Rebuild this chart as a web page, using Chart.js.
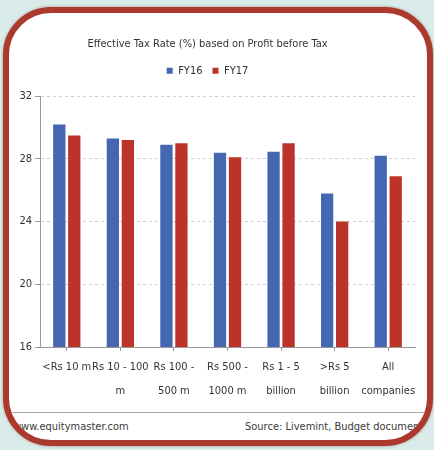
<!DOCTYPE html>
<html>
<head>
<meta charset="utf-8">
<script src="https://cdn.jsdelivr.net/npm/chart.js@4/dist/chart.umd.min.js"></script>
<style>
  html, body { margin: 0; padding: 0; }
  body { width: 434px; height: 450px; background: #d9ecea; position: relative; overflow: hidden;
         font-family: 'Liberation Sans Narrow', 'DejaVu Sans Condensed', sans-serif; }
  .frame { position: absolute; left: 3px; top: 7px; width: 430px; height: 439px; box-sizing: border-box;
           border: 6px solid #ab3a2e; border-radius: 48px; background: #fff; overflow: hidden;
           box-shadow: 0 0 3px rgba(120,40,30,0.5); }
  .chart-wrap { position: absolute; left: -9px; top: -13px; width: 434px; height: 410px; }
  .rule { position: absolute; left: 0; right: 0; top: 399px; height: 1px; background: #a8a8a8; }
  .foot { position: absolute; top: 407px; font-size: 11px; color: #3a3a3a; white-space: nowrap; }
</style>
</head>
<body>
<div class="frame">
  <div class="chart-wrap"><canvas id="tax-chart" width="434" height="410"></canvas></div>
  <div class="rule"></div>
  <div class="foot" style="left:4px">www.equitymaster.com</div>
  <div class="foot" style="left:236px">Source: Livemint, Budget documents</div>
</div>
<script>
const categories = [
  ['<Rs 10 m'], ['Rs 10 - 100', 'm'], ['Rs 100 -', '500 m'], ['Rs 500 -', '1000 m'],
  ['Rs 1 - 5', 'billion'], ['>Rs 5', 'billion'], ['All', 'companies']
]
const fy16 = [30.2, 29.3, 28.9, 28.4, 28.45, 25.8, 28.2]
const fy17 = [29.5, 29.2, 29.0, 28.1, 29.0, 24.0, 26.9]
const yTicks = [16, 20, 24, 28, 32]

Chart.defaults.font.family = "'Liberation Sans Narrow', 'DejaVu Sans Condensed', sans-serif"
Chart.defaults.color = '#333'

// leave a little more room under the legend
const legendGap = {
  id: 'legendGap',
  beforeUpdate(chart) {
    const lg = chart.legend
    if (!lg || lg._gapPatched) return
    const fit = lg.fit.bind(lg)
    lg.fit = function () { fit(); this.height += 10 }
    lg._gapPatched = true
  }
}

const ctx = document.getElementById('tax-chart').getContext('2d')
new Chart(ctx, {
  type: 'bar',
  data: {
    labels: categories,
    datasets: [
      { label: 'FY16', data: fy16, backgroundColor: '#4566b0' },
      { label: 'FY17', data: fy17, backgroundColor: '#bc3329' }
    ]
  },
  plugins: [legendGap],
  options: {
    responsive: false,
    animation: false,
    categoryPercentage: 0.56,
    barPercentage: 0.82,
    layout: { padding: { left: 0, right: 19, top: 0, bottom: 0 } },
    plugins: {
      title: {
        display: true,
        text: 'Effective Tax Rate (%) based on Profit before Tax',
        font: { size: 11, weight: 'normal' },
        color: '#333',
        padding: { top: 38, bottom: 4 }
      },
      legend: {
        labels: { boxWidth: 6, boxHeight: 6, font: { size: 11 }, padding: 10 }
      },
      tooltip: { enabled: false }
    },
    scales: {
      x: {
        grid: { drawOnChartArea: false, offset: false, tickLength: 4, color: '#999' },
        border: { color: '#999' },
        ticks: { font: { size: 11, lineHeight: 2.1 }, padding: 5, maxRotation: 0, autoSkip: false },
        afterFit: scale => { scale.height = 63 }
      },
      y: {
        min: 16,
        max: 32,
        afterBuildTicks: scale => { scale.ticks = yTicks.map(v => ({ value: v })) },
        grid: { color: '#cfcfcf', tickColor: '#999', tickLength: 5 },
        border: { color: '#999', dash: [3, 3] },
        ticks: { font: { size: 11 }, padding: 3 },
        afterFit: scale => { scale.width = 40 }
      }
    }
  }
})
</script>
</body>
</html>
